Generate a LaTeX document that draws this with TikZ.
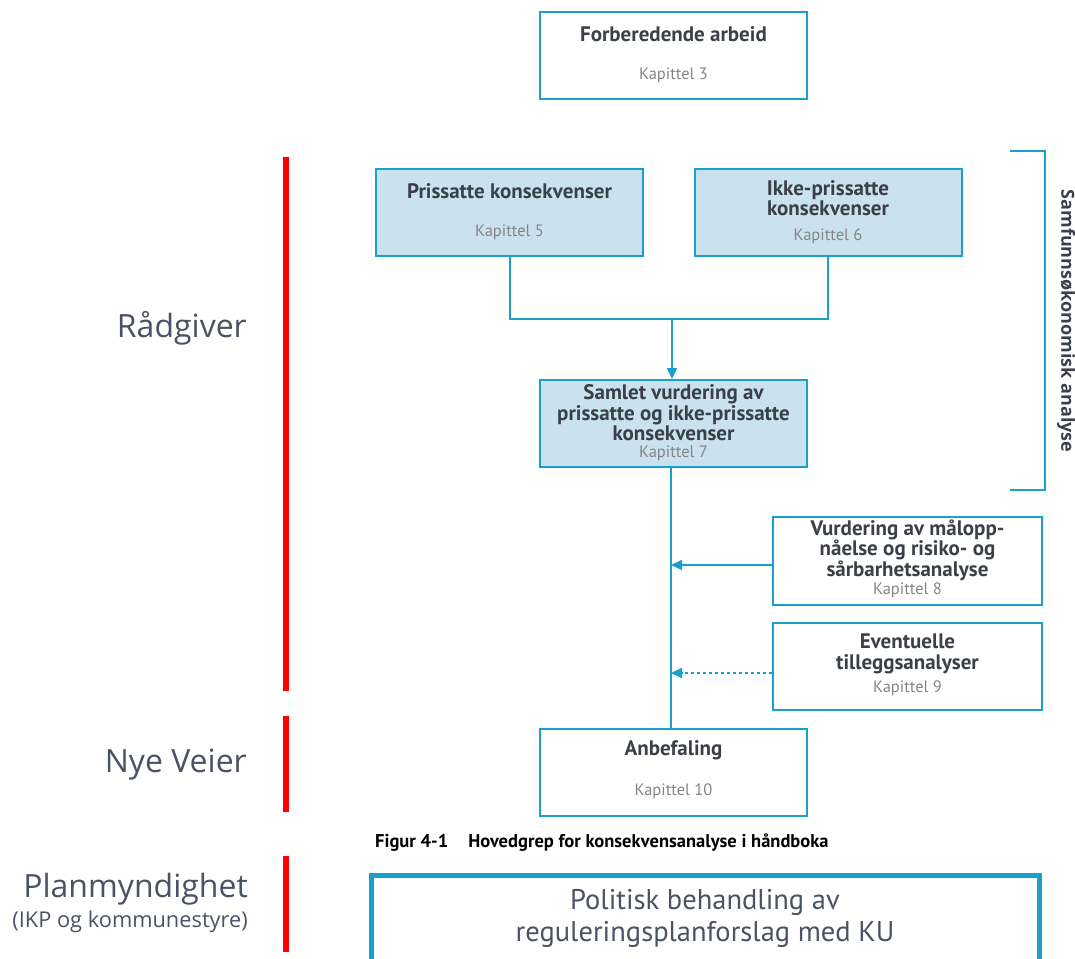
\documentclass[tikz,border=0pt]{standalone}
\usepackage{fontspec}
\setmainfont{PT Sans}
\newfontfamily\boxfont{PT Sans}
\newfontfamily\labfont{Open Sans}
\usetikzlibrary{arrows.meta}
\definecolor{kublue}{HTML}{1AA0CC}
\definecolor{kufill}{HTML}{C9E2EE}
\definecolor{kutext}{HTML}{3A3F48}
\definecolor{kugray}{HTML}{858585}
\definecolor{labgray}{HTML}{4B5263}
\definecolor{kured}{HTML}{FF0000}
\begin{document}
\begin{tikzpicture}[x=1pt,y=-1pt,
  kbox/.style={draw=kublue,line width=2pt,minimum width=267pt,minimum height=87pt,inner sep=0pt},
  kfilled/.style={kbox,fill=kufill},
  ttl/.style={font=\boxfont\bfseries\fontsize{21}{20.5}\selectfont,text=kutext,align=center,inner sep=0pt},
  kap/.style={font=\boxfont\fontsize{16.5}{18}\selectfont,text=kugray,inner sep=0pt},
  conn/.style={draw=kublue,line width=2pt},
  arr/.style={conn,-{Triangle[length=11pt,width=10pt]}},
  redbar/.style={draw=kured,line width=6pt},
  lab/.style={font=\labfont\fontsize{32}{36}\selectfont,text=labgray,anchor=east,inner sep=0pt}
]
\useasboundingbox (0,0) rectangle (1075,958);

% boxes
\node[kbox] (forb) at (673.5,55.5) {};
\node[kfilled] (pris) at (509.5,212.5) {};
\node[kfilled] (ikke) at (828,212.5) {};
\node[kfilled] (saml) at (673.5,423.5) {};
\node[kbox,minimum width=269pt,minimum height=88pt] (vurd) at (907.5,561) {};
\node[kbox,minimum width=269pt,minimum height=87pt] (even) at (907.5,666.5) {};
\node[kbox] (anbe) at (673.5,772) {};

% titles
\node[ttl] (forbT) at (673.5,34) {Forberedende arbeid};
\node[kap] (forbK) at (673.5,75) {Kapittel 3};
\node[ttl] (prisT) at (509.5,191) {Prissatte konsekvenser};
\node[kap] (prisK) at (509.5,232) {Kapittel 5};
\node[ttl] (ikkeT) at (828,198) {Ikke-prissatte\\konsekvenser};
\node[kap] (ikkeK) at (828,236) {Kapittel 6};
\node[ttl] (samlT) at (673.5,413) {Samlet vurdering av\\prissatte og ikke-prissatte\\konsekvenser};
\node[kap] (samlK) at (673.5,453.5) {Kapittel 7};
\node[ttl] (vurdT) at (907.5,550) {Vurdering av målopp-\\nåelse og risiko- og\\sårbarhetsanalyse};
\node[kap] (vurdK) at (907.5,590.5) {Kapittel 8};
\node[ttl] (evenT) at (907.5,654) {Eventuelle\\tilleggsanalyser};
\node[kap] (evenK) at (907.5,688) {Kapittel 9};
\node[ttl] (anbeT) at (673.5,750) {Anbefaling};
\node[kap] (anbeK) at (673.5,791) {Kapittel 10};

% connectors
\coordinate (mid) at (672,319);
\coordinate (j1) at (671,565);
\coordinate (j2) at (671,673);
\draw[conn] (pris.south) |- (mid) -| (ikke.south);
\draw[arr] (mid) -- (mid |- saml.north);
\draw[conn] (saml.south -| j1) -- (anbe.north -| j1);
\draw[arr] (vurd.west |- j1) -- (j1);
\draw[arr,dash pattern=on 3pt off 3pt] (even.west |- j2) -- (j2);

% bracket
\coordinate (bt) at (1010,151);
\coordinate (bb) at (1010,490);
\draw[conn] (bt) -- ++(35,0) |- (bb);
\node[font=\labfont\bfseries\fontsize{18}{20}\selectfont,text=kutext,rotate=-90,inner sep=0pt] (samf) at (1066,321) {Samfunnsøkonomisk analyse};

% caption
\node[font=\boxfont\bfseries\fontsize{18.5}{20}\selectfont,text=black,anchor=west,inner sep=0pt] (cap) at (375,843) {Figur 4-1\hspace{20pt}Hovedgrep for konsekvensanalyse i håndboka};

% politisk box
\draw[draw=kublue,line width=5pt] (371,966) -- (371,875.5) -- (1039,875.5) -- (1039,966);
\node[font=\boxfont\fontsize{28.5}{32}\selectfont,text=labgray,align=center,inner sep=0pt] (pol) at (705,918) {Politisk behandling av\\reguleringsplanforslag med KU};

% red bars
\draw[redbar] (286,157) -- (286,691);
\draw[redbar] (286,716) -- (286,812);
\draw[redbar] (286,856) -- (286,952);

% labels
\node[lab] (radg) at (247,328) {Rådgiver};
\node[lab] (nye) at (247,765) {Nye Veier};
\node[lab] (plan) at (248,889) {Planmyndighet};
\node[lab,font=\labfont\fontsize{21.8}{24}\selectfont] (ikp) at (248,922) {(IKP og kommunestyre)};
\end{tikzpicture}
\end{document}
